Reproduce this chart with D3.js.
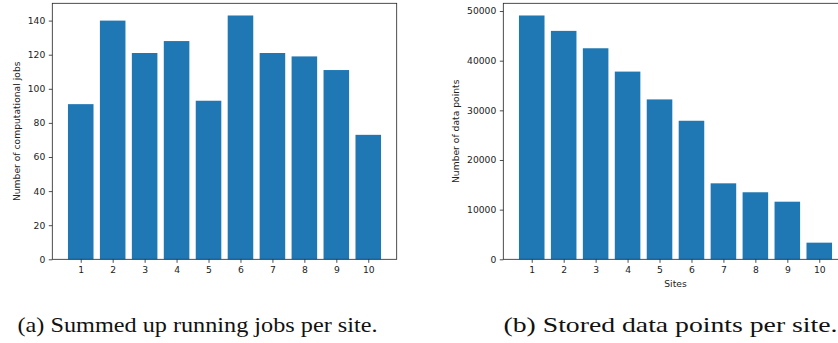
<!DOCTYPE html>
<html>
<head>
<meta charset="utf-8">
<script src="https://cdn.jsdelivr.net/npm/d3@7/dist/d3.min.js"></script>
<style>
  html, body { margin: 0; padding: 0; background: #fff; }
  svg { display: block; }
  .tick text { font-family: "DejaVu Sans", sans-serif; font-size: 9.2px; fill: #222; }
  .tick line { stroke: #222; stroke-width: 0.8px; }
  .axis-label { font-family: "DejaVu Sans", sans-serif; font-size: 9.2px; fill: #222; }
  .caption { font-family: "Liberation Serif", "Times New Roman", Times, serif; font-size: 22px; fill: #111; }
</style>
</head>
<body>
<svg id="chart" width="838" height="343"></svg>
<script>
// Sites on the x axis (shared by both panels)
const sites = [1, 2, 3, 4, 5, 6, 7, 8, 9, 10];

// (a) summed up running computational jobs per site
const jobs = [91, 140, 121, 128, 93, 143, 121, 119, 111, 73];
const jobTicks = [0, 20, 40, 60, 80, 100, 120, 140];

// (b) stored data points per site
const dataPoints = [49100, 46000, 42500, 37800, 32200, 27900, 15300, 13500, 11600, 3350];
const pointTicks = [0, 10000, 20000, 30000, 40000, 50000];

const captions = ["(a) Summed up running jobs per site.", "(b) Stored data points per site."];

const svg = d3.select("#chart");
const barColor = "#1f77b4";

// Draw one bar panel in the style of a matplotlib bar chart
function panel(opts) {
  const { left, top, width, height, values, ticks, ylabel, xlabel, ylabelX, caption, captionX, captionLen } = opts;
  const g = svg.append("g");

  const x = d3.scaleLinear()
    .domain([sites[0] - 0.4 - 0.49, sites[sites.length - 1] + 0.4 + 0.49])
    .range([left, left + width]);
  const y = d3.scaleLinear()
    .domain([0, d3.max(values) * 1.05])
    .range([top + height, top]);

  g.selectAll("rect.bar")
    .data(values)
    .join("rect")
    .attr("class", "bar")
    .attr("x", (d, i) => x(sites[i] - 0.4))
    .attr("width", (d, i) => x(sites[i] + 0.4) - x(sites[i] - 0.4))
    .attr("y", d => y(d))
    .attr("height", d => y(0) - y(d))
    .attr("fill", barColor);

  const yAxis = g.append("g")
    .attr("transform", `translate(${left},0)`)
    .call(d3.axisLeft(y).tickValues(ticks).tickFormat(d3.format("d")).tickSize(3.5).tickPadding(3.5));
  yAxis.select(".domain").remove();

  const xAxis = g.append("g")
    .attr("transform", `translate(0,${top + height})`)
    .call(d3.axisBottom(x).tickValues(sites).tickFormat(d3.format("d")).tickSize(3.5).tickPadding(3.5));
  xAxis.select(".domain").remove();

  // axes frame
  g.append("rect")
    .attr("x", left).attr("y", top)
    .attr("width", width).attr("height", height)
    .attr("fill", "none")
    .attr("stroke", "#222")
    .attr("stroke-width", 0.8);

  g.append("text")
    .attr("class", "axis-label")
    .attr("transform", `translate(${ylabelX},${top + height / 2}) rotate(-90)`)
    .attr("text-anchor", "middle")
    .attr("dominant-baseline", "middle")
    .text(ylabel);

  if (xlabel) {
    g.append("text")
      .attr("class", "axis-label")
      .attr("x", left + width / 2)
      .attr("y", top + height + 27.5)
      .attr("text-anchor", "middle")
      .text(xlabel);
  }

  g.append("text")
    .attr("class", "caption")
    .attr("x", captionX)
    .attr("y", 331.5)
    .attr("textLength", captionLen)
    .attr("lengthAdjust", "spacingAndGlyphs")
    .text(caption);
}

panel({
  left: 52.3, top: 3.3, width: 344.4, height: 256,
  values: jobs, ticks: jobTicks,
  ylabel: "Number of computational jobs", xlabel: null, ylabelX: 17.7,
  caption: captions[0], captionX: 17.5, captionLen: 360
});

panel({
  left: 503.3, top: 3.3, width: 344.4, height: 256,
  values: dataPoints, ticks: pointTicks,
  ylabel: "Number of data points", xlabel: "Sites", ylabelX: 456.7,
  caption: captions[1], captionX: 503.5, captionLen: 334
});
</script>
</body>
</html>
